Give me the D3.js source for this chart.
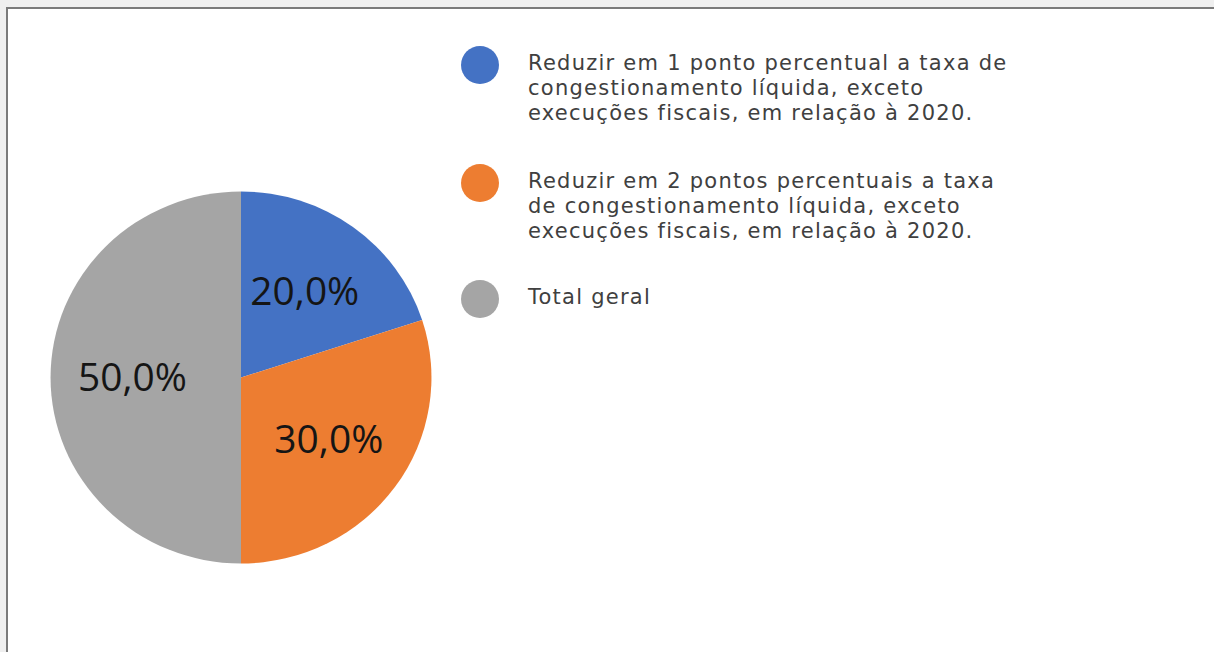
<!DOCTYPE html>
<html>
<head>
<meta charset="utf-8">
<script src="https://cdn.jsdelivr.net/npm/d3@7"></script>
<style>
  body { margin: 0; background: #efefef; }
  svg { display: block; }
</style>
</head>
<body>
<div id="chart"></div>
<script>
// categories (legend lines wrapped as shown in the reference)
const categories = [
  "Reduzir em 1 ponto percentual a taxa de congestionamento líquida, exceto execuções fiscais, em relação à 2020.",
  "Reduzir em 2 pontos percentuais a taxa de congestionamento líquida, exceto execuções fiscais, em relação à 2020.",
  "Total geral"
];
const legendLines = [
  ["Reduzir em 1 ponto percentual a taxa de", "congestionamento líquida, exceto", "execuções fiscais, em relação à 2020."],
  ["Reduzir em 2 pontos percentuais a taxa", "de congestionamento líquida, exceto", "execuções fiscais, em relação à 2020."],
  ["Total geral"]
];
const values = [20, 30, 50];
const colors = ["#4472c4", "#ed7d31", "#a5a5a5"];

const width = 1214, height = 652;
const cx = 241, cy = 377.5, radius = 186;

const svg = d3.select("#chart").append("svg")
  .attr("width", width)
  .attr("height", height);

// chart frame
svg.append("rect")
  .attr("x", 7).attr("y", 8)
  .attr("width", width + 10).attr("height", height + 10)
  .attr("fill", "#fff")
  .attr("stroke", "#7a7a7a")
  .attr("stroke-width", 2);

const data = categories.map((c, i) => ({ name: c, value: values[i], lines: legendLines[i] }));
const total = d3.sum(values);

const color = d3.scaleOrdinal()
  .domain(categories)
  .range(colors);

const pie = d3.pie()
  .sort(null)
  .value(d => d.value);

const arc = d3.arc()
  .innerRadius(0)
  .outerRadius(radius);

const labelArc = d3.arc()
  .innerRadius(radius * 0.57)
  .outerRadius(radius * 0.57);

// the source picture is slightly wider than tall
const plot = svg.append("g")
  .attr("transform", `translate(${cx},${cy}) scale(1.024,1)`);

const arcs = pie(data);

plot.selectAll("path")
  .data(arcs)
  .enter()
  .append("path")
    .attr("d", arc)
    .attr("fill", d => color(d.data.name));

const fmt = v => (v / total * 100).toFixed(1).replace(".", ",") + "%";

plot.selectAll("text.label")
  .data(arcs)
  .enter()
  .append("text")
    .attr("class", "label")
    .attr("transform", d => `translate(${labelArc.centroid(d)})`)
    .attr("text-anchor", "middle")
    .attr("dy", "0.35em")
    .attr("font-family", "'Open Sans', sans-serif")
    .attr("font-size", 38)
    .attr("fill", "#151515")
    .text(d => fmt(d.data.value));

// legend
const legendY = [65, 183, 299];
const lineGap = 25;

const items = svg.append("g").selectAll("g")
  .data(data)
  .enter()
  .append("g")
    .attr("transform", (d, i) => `translate(480,${legendY[i]})`);

items.append("circle")
  .attr("r", 19)
  .attr("fill", d => color(d.name));

items.selectAll("text")
  .data(d => d.lines)
  .enter()
  .append("text")
    .attr("x", 48)
    .attr("y", (d, i) => 5 + i * lineGap)
    .attr("font-family", "'DejaVu Sans', sans-serif")
    .attr("font-size", 21)
    .attr("letter-spacing", 1.25)
    .attr("fill", "#404040")
    .text(d => d);
</script>
</body>
</html>
